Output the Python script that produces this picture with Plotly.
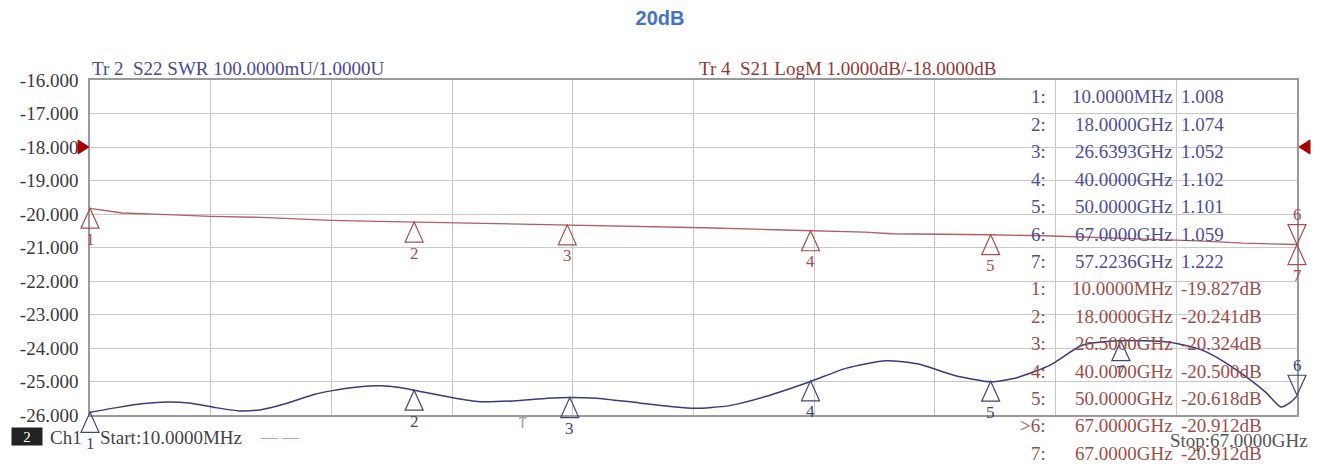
import plotly.graph_objects as go
import numpy as np

# ---------------- data ----------------
START_GHZ = 0.01
STOP_GHZ = 67.0

# Tr 4  S21 LogM trace (GHz, dB)
s21_freq = [0.01, 0.6, 1.8, 4.3, 6.7, 9.5, 13.4, 16.0, 18.0, 22.0, 26.5, 30.0, 34.0,
            38.0, 40.0, 43.0, 44.5, 47.0, 50.0, 53.0, 56.0, 59.0, 61.5, 64.0, 67.0]
s21_db = [-19.83, -19.87, -19.97, -20.02, -20.07, -20.10, -20.19, -20.22, -20.24, -20.27,
          -20.32, -20.35, -20.41, -20.47, -20.50, -20.54, -20.59, -20.60, -20.62, -20.65,
          -20.70, -20.74, -20.80, -20.87, -20.91]

# Tr 2  S22 SWR trace (GHz, U)
s22_freq = [0.01, 1.5, 3.0, 4.3, 5.5, 7.0, 8.3, 9.5, 11.0, 12.5, 13.4, 15.0, 16.1, 17.2,
            18.0, 19.5, 21.5, 23.5, 25.4, 26.64, 28.1, 30.5, 33.5, 35.5, 37.5, 40.0, 42.0,
            44.2, 46.0, 48.0, 50.0, 51.5, 53.3, 55.1, 57.2, 59.8, 61.0, 61.9, 62.8, 64.2,
            65.3, 66.1, 66.6, 67.0]
s22_swr = [1.008, 1.022, 1.034, 1.039, 1.036, 1.022, 1.012, 1.016, 1.036, 1.062, 1.072,
           1.084, 1.087, 1.082, 1.074, 1.058, 1.040, 1.042, 1.050, 1.052, 1.050, 1.036,
           1.020, 1.028, 1.055, 1.100, 1.140, 1.162, 1.152, 1.118, 1.099, 1.112, 1.149,
           1.209, 1.222, 1.218, 1.205, 1.190, 1.164, 1.113, 1.066, 1.024, 1.036, 1.057]

# marker readouts
s22_mk_ids = ["1", "2", "3", "4", "5", "6", "7"]
s22_mk_freq = [0.01, 18.0, 26.6393, 40.0, 50.0, 67.0, 57.2236]
s22_mk_text = ["10.0000MHz", "18.0000GHz", "26.6393GHz", "40.0000GHz", "50.0000GHz",
               "67.0000GHz", "57.2236GHz"]
s22_mk_swr = [1.008, 1.074, 1.052, 1.102, 1.101, 1.059, 1.222]
s22_mk_down = [False, False, False, False, False, True, False]

s21_mk_ids = ["1", "2", "3", "4", "5", ">6", "7"]
s21_mk_freq = [0.01, 18.0, 26.5, 40.0, 50.0, 67.0, 67.0]
s21_mk_text = ["10.0000MHz", "18.0000GHz", "26.5000GHz", "40.0000GHz", "50.0000GHz",
               "67.0000GHz", "67.0000GHz"]
s21_mk_db = [-19.827, -20.241, -20.324, -20.500, -20.618, -20.912, -20.912]
s21_mk_down = [False, False, False, False, False, True, False]

y_ticks = [-16, -17, -18, -19, -20, -21, -22, -23, -24, -25, -26]
y_tick_text = ["-16.000", "-17.000", "-18.000", "-19.000", "-20.000", "-21.000",
               "-22.000", "-23.000", "-24.000", "-25.000", "-26.000"]

S21_RANGE = [-26.0, -16.0]
S22_RANGE = [1.0, 2.0]
S21_REF = -18.0

# ---------------- layout constants ----------------
W, H = 1320, 467
PL, PR, PT, PB = 90, 1297, 80, 415
SERIF = "Liberation Serif"
RED_TXT = "#9c4e48"
BLUE = "#3a3a7c"
BLUE_TXT = "#4e4e98"


def px(xp, yp):
    return (xp - PL) / (PR - PL), (PB - yp) / (PB - PT)


def fx(f):
    return (f - START_GHZ) / (STOP_GHZ - START_GHZ)


def fy(v, rng):
    return (v - rng[0]) / (rng[1] - rng[0])


fig = go.Figure()
fig.add_trace(go.Scatter(x=s21_freq, y=s21_db, mode="lines", yaxis="y",
                         line=dict(color="#b06060", width=1.3), hoverinfo="skip"))
fig.add_trace(go.Scatter(x=s22_freq, y=s22_swr, mode="lines", yaxis="y2",
                         line=dict(color=BLUE, width=1.5, shape="spline", smoothing=0.6),
                         hoverinfo="skip"))

shapes = []
ann = []


def add_markers(ids, freqs, vals, downs, rng, yref, color):
    for i, f, v, d in zip(ids, freqs, vals, downs):
        path = "M0,0 L-9,20 L9,20 Z" if d else "M0,0 L-9,-20 L9,-20 Z"
        shapes.append(dict(type="path", xref="paper", yref="paper",
                           xsizemode="pixel", ysizemode="pixel",
                           xanchor=fx(f), yanchor=fy(v, rng), path=path,
                           line=dict(color=color, width=1.2),
                           fillcolor="rgba(0,0,0,0)", layer="above"))
        ann.append(dict(x=f, y=v, xref="x", yref=yref, text=i.replace(">", ""),
                        showarrow=False, yshift=30 if d else -31,
                        font=dict(family=SERIF, size=17, color=color)))


add_markers(s21_mk_ids, s21_mk_freq, s21_mk_db, s21_mk_down, S21_RANGE, "y", "#a65050")
add_markers(s22_mk_ids, s22_mk_freq, s22_mk_swr, s22_mk_down, S22_RANGE, "y2", "#44447a")

# reference level triangles
shapes.append(dict(type="path", xref="paper", yref="paper", xsizemode="pixel",
                   ysizemode="pixel", xanchor=0, yanchor=fy(S21_REF, S21_RANGE),
                   path="M-1,0 L-12,7 L-12,-7 Z", line=dict(color="#a80000", width=1),
                   fillcolor="#a80000"))
shapes.append(dict(type="path", xref="paper", yref="paper", xsizemode="pixel",
                   ysizemode="pixel", xanchor=1, yanchor=fy(S21_REF, S21_RANGE),
                   path="M2,0 L13,7 L13,-7 Z", line=dict(color="#a80000", width=1),
                   fillcolor="#a80000"))


def txt(xp, yp, text, color, size=19, anchor="left", family=SERIF, **kw):
    x, y = px(xp, yp)
    d = dict(x=x, y=y, xref="paper", yref="paper", text=text, showarrow=False,
             xanchor=anchor, yanchor="middle",
             font=dict(family=family, size=size, color=color))
    d.update(kw)
    ann.append(d)


# header texts
txt(PL, 68, "Tr 2\u00a0\u00a0S22 SWR 100.0000mU/1.0000U", "#4a4a90", size=19)
txt(697, 68, "Tr 4\u00a0\u00a0S21 LogM 1.0000dB/-18.0000dB", "#8e3a36", size=19)

# marker table
rows = []
for i, t, v in zip(s22_mk_ids, s22_mk_text, s22_mk_swr):
    rows.append((i + ":", t, f"{v:.3f}", BLUE_TXT))
for i, t, v in zip(s21_mk_ids, s21_mk_text, s21_mk_db):
    rows.append((i + ":", t, f"{v:.3f}dB", RED_TXT))
for k, (i, t, v, c) in enumerate(rows):
    yp = 97 + 27.4 * k
    txt(1048, yp, i, c, anchor="right")
    txt(1175, yp, t, c, anchor="right")
    txt(1179, yp, v, c, anchor="left")

# footer
txt(27, 436, "2", "white", size=15, anchor="center", bgcolor="#222222",
    width=28, height=15)
txt(48, 437, "Ch1", "#444444")
txt(98, 437, "Start:10.0000MHz", "#444444")
txt(258, 436, "— —", "#d49c9c", size=17)
txt(1310, 441, "Stop:67.0000GHz", "#555555", anchor="right")
txt(513, 421, "↑", "#a0a0a0", size=18, family="DejaVu Sans")

fig.update_layout(
    width=W, height=H,
    margin=dict(l=PL, r=W - PR, t=PT, b=H - PB, pad=0),
    paper_bgcolor="white", plot_bgcolor="white",
    showlegend=False,
    title=dict(text="<b>20dB</b>", x=0.5, xref="container", xanchor="center",
               y=1 - 18 / H, yanchor="middle",
               font=dict(family="Liberation Sans", size=20, color="#4472C4")),
    xaxis=dict(range=[START_GHZ, STOP_GHZ],
               tickvals=list(np.linspace(START_GHZ, STOP_GHZ, 11)),
               showticklabels=False, ticks="", showgrid=True,
               gridcolor="#c8c8c8", gridwidth=1, zeroline=False, automargin=False,
               showline=True, mirror=True, linecolor="#9a9a9a", linewidth=1.5),
    yaxis=dict(range=S21_RANGE, tickvals=y_ticks, ticktext=y_tick_text,
               ticks="outside", ticklen=6, tickcolor="rgba(0,0,0,0)",
               tickfont=dict(family=SERIF, size=19, color="#3a3a3a"),
               showgrid=True, gridcolor="#c8c8c8", gridwidth=1, zeroline=False,
               automargin=False,
               showline=True, mirror=True, linecolor="#9a9a9a", linewidth=1.5),
    yaxis2=dict(range=S22_RANGE, overlaying="y", side="right", visible=False,
                showgrid=False, zeroline=False),
    shapes=shapes,
    annotations=ann,
)

fig.write_html("out.html", config={"displayModeBar": False},
               post_script="document.body.style.margin='0';document.body.style.overflow='hidden';")
